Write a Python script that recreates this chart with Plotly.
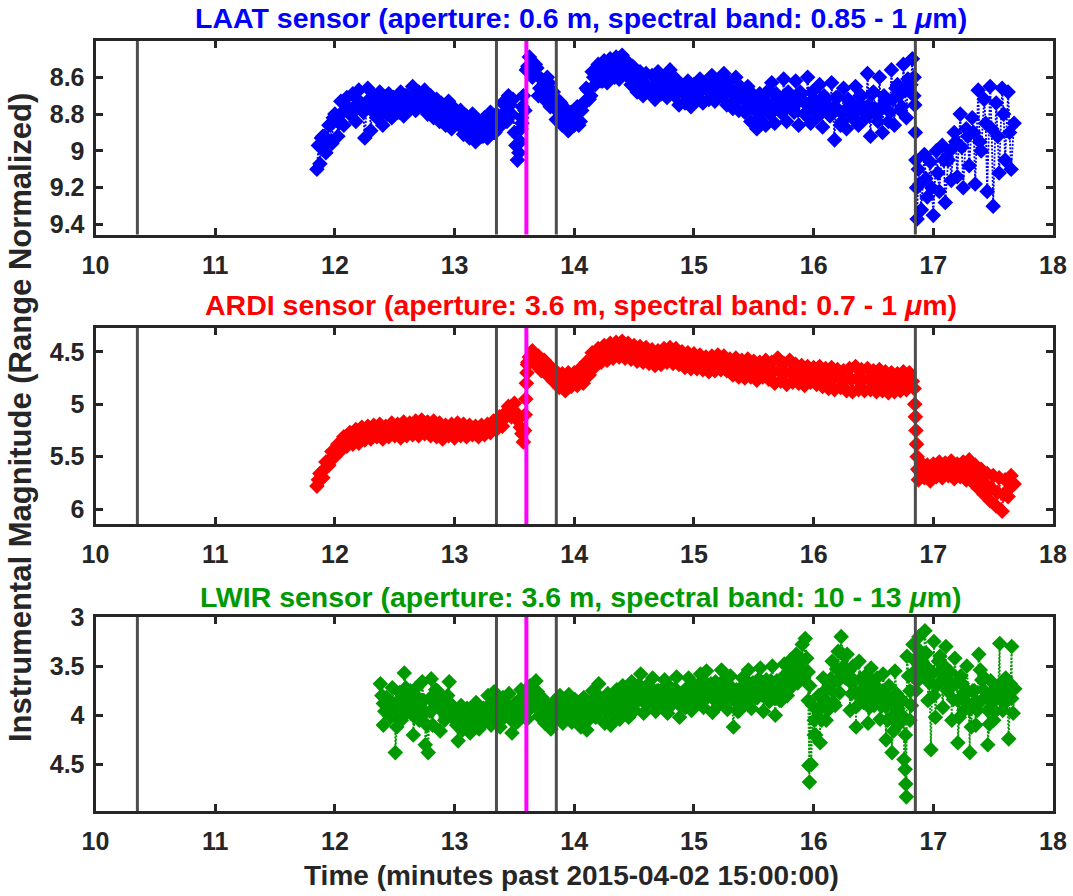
import numpy as np
import plotly.graph_objects as go
from plotly.subplots import make_subplots

# ---------------- data ----------------
EDGE_STEP = 0.025   # minutes between band-edge samples
CORE_STEP = 0.05    # minutes between band-core samples

# ===== LAAT (blue) =====
laat_start = 11.85
laat_vals = [
    9.10, 9.07, 8.92, 9.01, 8.86, 8.96, 8.80, 8.92,
    8.73, 8.86, 8.71, 8.80, 8.69, 8.84, 8.67, 8.77,
    8.93, 8.66, 8.89, 8.70, 8.82, 8.68, 8.86, 8.74,
    8.69, 8.82, 8.72, 8.79, 8.68, 8.81, 8.70, 8.77,
    8.65, 8.78, 8.68, 8.76, 8.67, 8.80, 8.70, 8.82,
    8.72, 8.84, 8.75, 8.86, 8.73, 8.88, 8.77, 8.85,
    8.78, 8.91, 8.81, 8.93, 8.80, 8.95, 8.84, 8.92,
    8.82, 8.93, 8.79, 8.90, 8.80, 8.87, 8.74, 8.83,
    8.70, 8.80, 8.90, 9.05, 8.95, 8.70, 8.56, 8.49,
    8.60, 8.53, 8.70, 8.61, 8.72, 8.60, 8.76, 8.68,
    8.83, 8.73, 8.86, 8.77, 8.89, 8.79, 8.86, 8.76,
    8.84, 8.74, 8.66, 8.72, 8.57, 8.64, 8.53, 8.62,
    8.51, 8.63, 8.50, 8.59, 8.49, 8.61, 8.48, 8.58,
    8.52, 8.64, 8.55, 8.68, 8.57, 8.70, 8.58, 8.66,
    8.59, 8.72, 8.57, 8.69, 8.60, 8.71, 8.56, 8.68,
    8.61, 8.75, 8.66, 8.74, 8.62, 8.76, 8.64, 8.72,
    8.61, 8.74, 8.66, 8.72, 8.59, 8.73, 8.63, 8.70,
    8.58, 8.75, 8.66, 8.77, 8.60, 8.78, 8.68, 8.79,
    8.65, 8.84, 8.73, 8.88, 8.69, 8.79, 8.86, 8.67,
    8.63, 8.85, 8.71, 8.79, 8.61, 8.84, 8.70, 8.78,
    8.62, 8.86, 8.69, 8.80, 8.60, 8.85, 8.72, 8.78,
    8.64, 8.87, 8.72, 8.80, 8.63, 8.94, 8.71, 8.86,
    8.66, 8.88, 8.73, 8.81, 8.65, 8.86, 8.70, 8.79,
    8.58, 8.92, 8.68, 8.80, 8.60, 8.90, 8.72, 8.84,
    8.56, 8.86, 8.64, 8.78, 8.53, 8.82, 8.62, 8.50,
]
laat_core_start = 11.8625
laat_core_vals = [
    8.97, 8.92, 8.86, 8.82, 8.79, 8.77, 8.76, 8.75, 8.76, 8.76,
    8.77, 8.76, 8.75, 8.75, 8.74, 8.73, 8.72, 8.72, 8.74, 8.76,
    8.78, 8.79, 8.81, 8.82, 8.85, 8.86, 8.87, 8.88, 8.87, 8.86,
    8.85, 8.80, 8.75, 8.97, 8.85, 8.54, 8.58, 8.66, 8.66, 8.73,
    8.78, 8.82, 8.84, 8.82, 8.78, 8.67, 8.60, 8.58, 8.57, 8.56,
    8.55, 8.55, 8.58, 8.61, 8.63, 8.65, 8.65, 8.64, 8.64, 8.66,
    8.68, 8.69, 8.69, 8.68, 8.67, 8.67, 8.67, 8.66, 8.67, 8.69,
    8.70, 8.72, 8.75, 8.78, 8.76, 8.74, 8.75, 8.73, 8.74, 8.73,
    8.74, 8.73, 8.74, 8.75, 8.76, 8.75, 8.77, 8.78, 8.78, 8.77,
    8.76, 8.76, 8.75, 8.77, 8.76, 8.73, 8.72, 8.70, 8.67, 8.64,
]
laat_core2_start = 11.8875
laat_core2_vals = [
    8.93, 8.95, 8.82, 8.85, 8.75, 8.80, 8.72, 8.79, 8.72, 8.80,
    8.73, 8.80, 8.71, 8.79, 8.70, 8.77, 8.68, 8.76, 8.70, 8.80,
    8.74, 8.83, 8.77, 8.86, 8.81, 8.90, 8.83, 8.92, 8.83, 8.90,
    8.81, 8.84, 8.72, 9.01, 8.78, 8.57, 8.55, 8.70, 8.63, 8.77,
    8.74, 8.86, 8.80, 8.86, 8.74, 8.70, 8.57, 8.62, 8.53, 8.60,
    8.51, 8.59, 8.54, 8.65, 8.59, 8.69, 8.61, 8.68, 8.60, 8.70,
    8.64, 8.73, 8.65, 8.72, 8.63, 8.71, 8.63, 8.70, 8.63, 8.73,
    8.65, 8.77, 8.69, 8.83, 8.70, 8.80, 8.69, 8.79, 8.68, 8.79,
    8.68, 8.79, 8.68, 8.81, 8.70, 8.81, 8.71, 8.84, 8.72, 8.83,
    8.70, 8.82, 8.69, 8.84, 8.70, 8.79, 8.66, 8.76, 8.61, 8.70,
]
laat_late_start = 16.875
laat_late_vals = [
    9.10, 9.32, 9.02, 9.25, 9.06, 9.35, 9.00, 9.22,
    8.97, 9.28, 9.05, 9.16, 8.90, 9.14, 8.80, 9.20,
    8.88, 9.08, 8.82, 9.18, 8.67, 9.00, 8.72, 9.22,
    8.65, 9.30, 8.74, 9.12, 8.66, 9.05, 8.68, 9.10, 8.85,
]
laat_late_core_start = 16.8875
laat_late_core_vals = [9.18, 9.15, 9.20, 9.12, 9.05, 9.00, 8.95, 8.98,
                       8.92, 8.90, 8.95, 8.85, 8.88, 8.92, 8.80, 8.90]
laat_extra_t = [13.555, 13.56, 13.565, 16.84, 16.845, 16.85, 16.855, 16.86, 16.865]
laat_extra_v = [8.88, 8.82, 8.76, 8.60, 8.75, 8.90, 9.05, 9.20, 9.37]

# ===== ARDI (red) =====
ardi_start = 11.85
ardi_vals = [
    5.78, 5.66, 5.70, 5.55, 5.58, 5.45, 5.50, 5.38,
    5.44, 5.31, 5.40, 5.27, 5.38, 5.24, 5.37, 5.22,
    5.34, 5.21, 5.33, 5.20, 5.31, 5.19, 5.33, 5.21,
    5.31, 5.18, 5.30, 5.19, 5.32, 5.17, 5.30, 5.18,
    5.29, 5.16, 5.30, 5.15, 5.28, 5.17, 5.30, 5.16,
    5.31, 5.18, 5.33, 5.20, 5.30, 5.19, 5.32, 5.18,
    5.30, 5.19, 5.31, 5.20, 5.29, 5.21, 5.31, 5.20,
    5.29, 5.19, 5.27, 5.16, 5.24, 5.12, 5.21, 5.08,
    5.02, 5.12, 4.99, 5.15, 5.22, 5.36, 4.80, 4.55,
    4.49, 4.62, 4.54, 4.68, 4.58, 4.72, 4.64, 4.78,
    4.69, 4.84, 4.71, 4.87, 4.70, 4.83, 4.70, 4.82,
    4.66, 4.80, 4.60, 4.72, 4.51, 4.64, 4.47, 4.60,
    4.44, 4.58, 4.42, 4.56, 4.41, 4.55, 4.40, 4.56,
    4.42, 4.57, 4.44, 4.59, 4.45, 4.60, 4.46, 4.61,
    4.48, 4.63, 4.49, 4.62, 4.47, 4.60, 4.46, 4.61,
    4.47, 4.62, 4.50, 4.65, 4.51, 4.66, 4.52, 4.66,
    4.53, 4.67, 4.55, 4.69, 4.54, 4.68, 4.53, 4.67,
    4.54, 4.68, 4.57, 4.72, 4.56, 4.74, 4.58, 4.75,
    4.57, 4.74, 4.59, 4.77, 4.60, 4.74, 4.58, 4.76,
    4.60, 4.80, 4.56, 4.78, 4.61, 4.81, 4.58, 4.79,
    4.62, 4.80, 4.63, 4.82, 4.64, 4.79, 4.65, 4.81,
    4.64, 4.83, 4.66, 4.85, 4.65, 4.86, 4.67, 4.84,
    4.68, 4.87, 4.66, 4.88, 4.64, 4.86, 4.67, 4.87,
    4.66, 4.86, 4.68, 4.88, 4.67, 4.87, 4.69, 4.89,
    4.70, 4.88, 4.71, 4.87, 4.69, 4.86, 4.70, 4.78,
]
ardi_core_start = 11.8625
ardi_core_vals = [
    5.72, 5.62, 5.52, 5.44, 5.38, 5.35, 5.31, 5.29, 5.27, 5.26,
    5.26, 5.26, 5.25, 5.24, 5.25, 5.24, 5.23, 5.22, 5.23, 5.23,
    5.25, 5.26, 5.25, 5.25, 5.24, 5.25, 5.25, 5.26, 5.24, 5.22,
    5.19, 5.14, 5.07, 5.08, 5.28, 4.60, 4.55, 4.61, 4.65, 4.71,
    4.77, 4.78, 4.77, 4.76, 4.73, 4.64, 4.57, 4.53, 4.51, 4.49,
    4.48, 4.48, 4.50, 4.52, 4.53, 4.54, 4.55, 4.55, 4.54, 4.54,
    4.56, 4.58, 4.59, 4.59, 4.60, 4.61, 4.61, 4.61, 4.62, 4.64,
    4.65, 4.66, 4.66, 4.68, 4.67, 4.67, 4.69, 4.68, 4.70, 4.70,
    4.71, 4.72, 4.72, 4.73, 4.74, 4.75, 4.76, 4.75, 4.77, 4.76,
    4.76, 4.77, 4.76, 4.77, 4.78, 4.79, 4.79, 4.79, 4.78, 4.78,
]
ardi_late_start = 16.875
ardi_late_vals = [
    5.72, 5.56, 5.70, 5.58, 5.73, 5.57, 5.69, 5.55,
    5.70, 5.56, 5.68, 5.54, 5.71, 5.57, 5.69, 5.55,
    5.72, 5.53, 5.74, 5.58, 5.80, 5.62, 5.86, 5.66,
    5.92, 5.68, 5.97, 5.70, 6.02, 5.72, 5.88, 5.68, 5.76,
]
ardi_late_core_start = 16.8875
ardi_late_core_vals = [5.64, 5.63, 5.64, 5.63, 5.62, 5.63, 5.62, 5.63,
                       5.64, 5.66, 5.71, 5.76, 5.80, 5.84, 5.86, 5.80]
ardi_extra_t = [13.585, 13.59, 13.595, 13.605, 13.61,
                16.84, 16.845, 16.85, 16.855, 16.86, 16.865, 16.87]
ardi_extra_v = [5.25, 5.10, 4.95, 4.70, 4.62,
                4.85, 5.00, 5.12, 5.25, 5.38, 5.50, 5.62]

# ===== LWIR (green) =====
lwir_start = 12.38
lwir_vals = [
    3.68, 4.10, 3.82, 3.96, 3.72, 4.38, 3.85, 4.05,
    3.57, 3.97, 3.75, 4.20, 3.72, 4.05, 3.66, 4.30,
    4.38, 3.63, 3.92, 3.75, 4.16, 3.85, 4.02, 3.66,
    3.90, 4.05, 4.26, 3.90, 4.12, 3.93, 4.18, 4.00,
    3.87, 4.14, 3.95, 4.06, 3.80, 4.10, 3.76, 3.98,
    4.12, 3.82, 4.00, 3.78, 4.18, 3.88, 4.06, 3.74,
    3.95, 4.04, 3.70, 3.88, 3.65, 4.01, 3.82, 4.08,
    3.90, 4.14, 3.86, 4.02, 3.80, 4.08, 3.92, 3.79,
    4.07, 3.84, 3.96, 4.12, 3.82, 4.15, 3.90, 3.75,
    4.02, 3.68, 3.92, 4.08, 3.78, 4.10, 3.85, 3.74,
    4.04, 3.70, 3.88, 4.02, 3.66, 3.95, 3.78, 3.58,
    3.98, 3.70, 3.85, 3.62, 3.96, 3.75, 3.90, 3.64,
    3.98, 3.72, 3.86, 3.61, 4.02, 3.78, 3.92, 3.62,
    3.95, 3.70, 3.84, 3.58, 3.92, 3.55, 3.80, 3.97,
    3.66, 3.90, 3.54, 3.82, 3.94, 3.60, 4.12, 3.74,
    3.95, 3.62, 3.85, 3.54, 3.93, 3.68, 3.82, 3.52,
    3.96, 3.64, 3.86, 3.50, 4.00, 3.70, 3.85, 3.48,
    3.80, 3.44, 3.66, 3.38, 3.58, 3.28, 3.22, 3.85,
    4.50, 4.20, 3.95, 4.28, 3.62, 4.05, 3.70, 3.45,
    3.90, 3.35, 3.20, 3.60, 3.38, 3.95, 3.50, 4.12,
    3.45, 3.85, 3.60, 4.08, 3.52, 3.90, 3.62, 4.04,
    3.58, 4.25, 3.70, 4.38, 3.55, 4.10, 3.85, 4.45,
    3.40, 4.05, 3.28, 3.75, 3.20, 3.60, 3.14, 3.85,
    4.35, 3.25, 3.70, 3.40, 3.92, 3.30, 3.65, 4.05,
    3.42, 4.28, 3.60, 3.95, 3.50, 4.38, 3.75, 4.10,
    3.38, 3.85, 3.62, 4.30, 3.65, 4.05, 3.80, 3.27,
    3.95, 3.62, 4.24, 3.30, 3.73,
]
lwir_core_start = 12.3925
lwir_core_upper_vals = [
    3.80, 3.85, 3.90, 3.77, 3.72, 3.83, 3.82, 3.85, 3.83, 3.74,
    3.90, 3.80, 3.95, 4.00, 4.00, 4.00, 3.95, 3.93, 3.89, 3.86,
    3.90, 3.89, 3.93, 3.84, 3.82, 3.78, 3.76, 3.88, 3.94, 3.92,
    3.88, 3.87, 3.90, 3.91, 3.91, 3.86, 3.79, 3.83, 3.86, 3.84,
    3.80, 3.77, 3.73, 3.69, 3.75, 3.72, 3.75, 3.73, 3.77, 3.73,
    3.79, 3.72, 3.72, 3.68, 3.66, 3.68, 3.70, 3.65, 3.69, 3.78,
    3.72, 3.65, 3.67, 3.63, 3.68, 3.65, 3.65, 3.61, 3.55, 3.51,
    3.44, 3.42, 3.90, 3.80, 3.75, 3.63, 3.53, 3.38, 3.55, 3.65,
    3.63, 3.70, 3.65, 3.73, 3.78, 3.87, 3.78, 3.85, 3.60, 3.44,
    3.35, 3.37, 3.58, 3.45, 3.50, 3.56, 3.68, 3.68, 3.76, 3.75,
    3.54, 3.81, 3.76, 3.70, 3.70, 3.68,
]
lwir_core_mid_start = 12.405
lwir_core_mid_vals = [
    3.88, 3.93, 4.01, 3.85, 3.79, 3.92, 3.90, 3.97, 3.96, 3.80,
    3.97, 3.87, 4.02, 4.07, 4.05, 4.05, 4.00, 3.97, 3.95, 3.93,
    3.96, 3.96, 4.00, 3.91, 3.88, 3.84, 3.83, 3.94, 3.99, 3.97,
    3.94, 3.92, 3.95, 3.97, 3.98, 3.93, 3.87, 3.90, 3.93, 3.90,
    3.87, 3.84, 3.80, 3.77, 3.81, 3.79, 3.81, 3.80, 3.83, 3.80,
    3.85, 3.78, 3.78, 3.75, 3.73, 3.76, 3.76, 3.72, 3.76, 3.87,
    3.78, 3.72, 3.74, 3.71, 3.76, 3.73, 3.75, 3.69, 3.63, 3.59,
    3.53, 3.56, 4.05, 3.92, 3.85, 3.75, 3.65, 3.50, 3.66, 3.77,
    3.75, 3.81, 3.73, 3.82, 3.91, 4.01, 3.93, 4.02, 3.75, 3.54,
    3.45, 3.52, 3.80, 3.55, 3.62, 3.70, 3.85, 3.77, 3.94, 3.85,
    3.64, 3.95, 3.86, 3.78, 3.78, 3.83,
]
lwir_core_lower_start = 12.4175
lwir_core_lower_vals = [
    3.96, 4.02, 4.12, 3.93, 3.86, 4.02, 3.98, 4.10, 4.10, 3.86,
    4.05, 3.94, 4.10, 4.15, 4.10, 4.10, 4.06, 4.02, 4.01, 4.00,
    4.02, 4.04, 4.07, 3.98, 3.95, 3.90, 3.91, 4.00, 4.05, 4.02,
    4.00, 3.98, 4.00, 4.03, 4.05, 4.00, 3.95, 3.97, 4.00, 3.96,
    3.94, 3.91, 3.87, 3.85, 3.88, 3.86, 3.87, 3.86, 3.89, 3.88,
    3.91, 3.85, 3.85, 3.82, 3.81, 3.84, 3.82, 3.79, 3.83, 3.96,
    3.85, 3.79, 3.82, 3.79, 3.84, 3.82, 3.85, 3.77, 3.71, 3.67,
    3.62, 3.70, 4.20, 4.05, 3.95, 3.87, 3.77, 3.62, 3.78, 3.90,
    3.87, 3.92, 3.82, 3.91, 4.05, 4.16, 4.08, 4.20, 3.90, 3.65,
    3.55, 3.67, 4.02, 3.65, 3.75, 3.84, 4.02, 3.86, 4.12, 3.95,
    3.74, 4.09, 3.96, 3.85, 3.85, 3.98,
]
lwir_extra_t = [15.96, 15.965, 16.765, 16.77, 16.775]
lwir_extra_v = [4.51, 4.68, 4.55, 4.70, 4.83]

# event markers (minutes)
gray_event_times = [10.35, 13.35, 13.85, 16.85]
magenta_event_time = 13.6

titles = [
    "LAAT sensor (aperture: 0.6 m, spectral band: 0.85 - 1 <i>μ</i>m)",
    "ARDI sensor (aperture: 3.6 m, spectral band: 0.7 - 1 <i>μ</i>m)",
    "LWIR sensor (aperture: 3.6 m, spectral band: 10 - 13 <i>μ</i>m)",
]
colors = ["#0000FF", "#FF0000", "#009900"]
y_ranges = [[9.454, 8.403], [6.141, 4.273], [4.974, 3.0]]
y_ticks = [[8.6, 8.8, 9, 9.2, 9.4], [4.5, 5, 5.5, 6], [3, 3.5, 4, 4.5]]
x_ticks = [10, 11, 12, 13, 14, 15, 16, 17, 18]


def build(segments, extra_t, extra_v):
    """segments: list of (start_time, step, values) sampled on a regular clock."""
    t, v = [], []
    for start, step, vals in segments:
        t += list(start + step * np.arange(len(vals)))
        v += list(vals)
    t += list(extra_t)
    v += list(extra_v)
    t = np.array(t)
    v = np.array(v)
    order = np.argsort(t, kind="stable")
    return t[order], v[order]


series = [
    build([(laat_start, EDGE_STEP, laat_vals),
           (laat_core_start, CORE_STEP, laat_core_vals),
           (laat_core2_start, CORE_STEP, laat_core2_vals),
           (laat_late_start, EDGE_STEP, laat_late_vals),
           (laat_late_core_start, CORE_STEP, laat_late_core_vals)],
          laat_extra_t, laat_extra_v),
    build([(ardi_start, EDGE_STEP, ardi_vals),
           (ardi_core_start, CORE_STEP, ardi_core_vals),
           (ardi_late_start, EDGE_STEP, ardi_late_vals),
           (ardi_late_core_start, CORE_STEP, ardi_late_core_vals)],
          ardi_extra_t, ardi_extra_v),
    build([(lwir_start, EDGE_STEP, lwir_vals),
           (lwir_core_start, CORE_STEP, lwir_core_upper_vals),
           (lwir_core_mid_start, CORE_STEP, lwir_core_mid_vals),
           (lwir_core_lower_start, CORE_STEP, lwir_core_lower_vals)],
          lwir_extra_t, lwir_extra_v),
]

# ---------------- figure ----------------
W, H = 1073, 896
fig = make_subplots(rows=3, cols=1)

x_dom = [95.5 / W, 1053 / W]
y_doms = [[1 - 234.5 / H, 1 - 41 / H], [1 - 524 / H, 1 - 328 / H], [1 - 811 / H, 1 - 617 / H]]
title_y_px = [18, 305, 597]
title_x_px = 581

FONT = "Liberation Sans, Arial, sans-serif"
AX = "#262626"

for i, (t, v) in enumerate(series):
    r = i + 1
    fig.add_trace(go.Scatter(
        x=t, y=v, mode="lines+markers",
        line=dict(color=colors[i], width=1.8, dash="2px,1.5px"),
        marker=dict(symbol="diamond", size=12, color=colors[i], line=dict(width=0)),
        showlegend=False, hoverinfo="skip",
    ), row=r, col=1)

    axis_common = dict(
        showline=True, linewidth=3, linecolor=AX, mirror="allticks",
        ticks="inside", ticklen=7, tickwidth=3, tickcolor=AX,
        showgrid=False, zeroline=False, automargin=False,
        tickfont=dict(family=FONT, size=25, color=AX, weight="bold"),
    )
    fig.update_xaxes(range=[10, 18], tickvals=x_ticks, domain=x_dom,
                     ticklabelstandoff=6, row=r, col=1, **axis_common)
    fig.update_yaxes(range=y_ranges[i], tickvals=y_ticks[i], domain=y_doms[i],
                     ticklabelstandoff=3, row=r, col=1, **axis_common)

    xref = "x" if r == 1 else f"x{r}"
    yref = "y domain" if r == 1 else f"y{r} domain"
    for gt in gray_event_times:
        fig.add_shape(type="line", x0=gt, x1=gt, y0=0, y1=1, xref=xref, yref=yref,
                      line=dict(color="#4D4D4D", width=3), layer="above")
    fig.add_shape(type="line", x0=magenta_event_time, x1=magenta_event_time, y0=0, y1=1,
                  xref=xref, yref=yref, line=dict(color="#FF00FF", width=4), layer="above")

    fig.add_annotation(text=f"<b>{titles[i]}</b>", x=title_x_px / W,
                       y=1 - title_y_px[i] / H, xref="paper", yref="paper",
                       xanchor="center", yanchor="middle", showarrow=False,
                       font=dict(family=FONT, size=28.5, color=colors[i]))

fig.add_annotation(text="<b>Time (minutes past 2015-04-02 15:00:00)</b>",
                   x=571 / W, y=1 - 875 / H, xref="paper", yref="paper",
                   xanchor="center", yanchor="middle", showarrow=False,
                   font=dict(family=FONT, size=28, color=AX))
fig.add_annotation(text="<b>Instrumental Magnitude (Range Normalized)</b>",
                   x=20 / W, y=1 - 418 / H, xref="paper", yref="paper",
                   xanchor="center", yanchor="middle", showarrow=False, textangle=-90,
                   font=dict(family=FONT, size=31, color=AX))

fig.update_layout(width=W, height=H, margin=dict(l=0, r=0, t=0, b=0),
                  plot_bgcolor="white", paper_bgcolor="white")

fig.write_html("out.html", config={"displayModeBar": False},
               post_script="document.body.style.margin='0';")
